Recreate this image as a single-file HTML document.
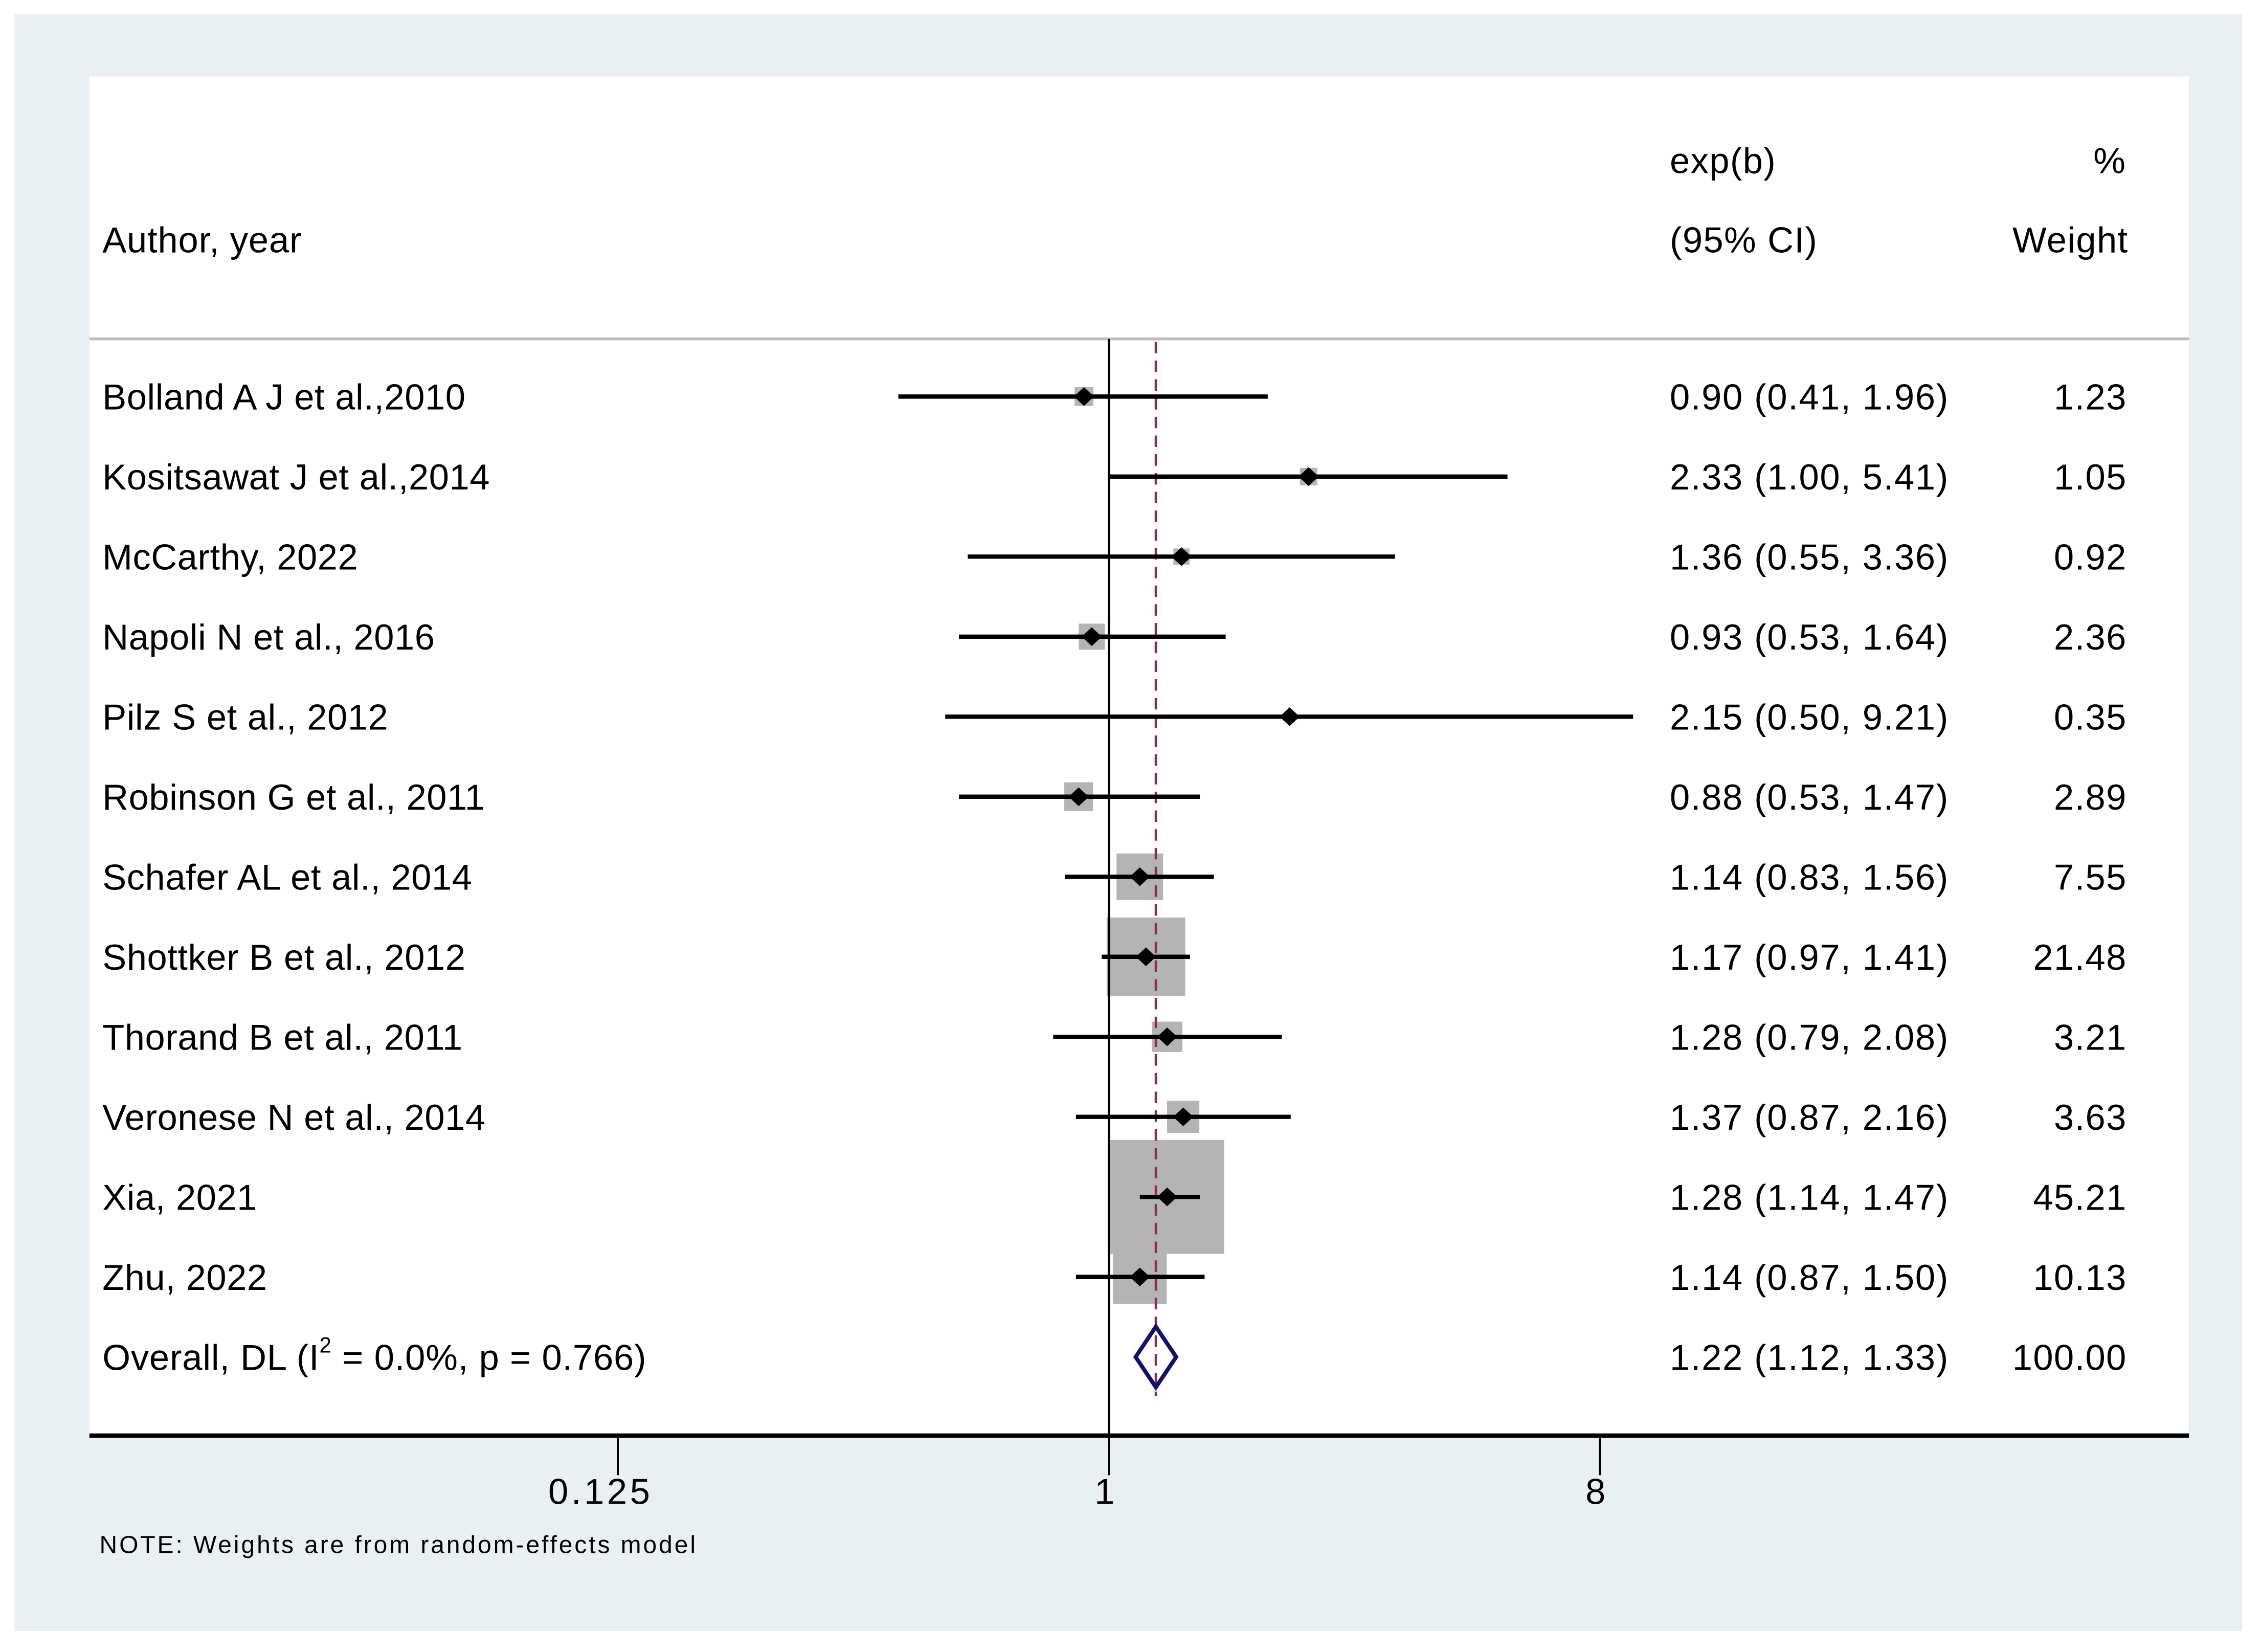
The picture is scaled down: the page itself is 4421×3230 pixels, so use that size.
<!DOCTYPE html>
<html><head><meta charset="utf-8"><style>
html,body{margin:0;padding:0;background:#fff;}
svg{display:block;}
text{font-family:"Liberation Sans",Arial,sans-serif;fill:#000;}
</style></head><body>
<svg id="chart" width="4421" height="3230" viewBox="0 0 1568 1145.6" xmlns="http://www.w3.org/2000/svg">
<rect x="10" y="10" width="1545" height="1121" fill="#e8f0f2"/>
<rect x="62" y="53" width="1456" height="942" fill="#fff"/>
<text x="71" y="175" font-size="25" letter-spacing="0.3">Author, year</text>
<text x="1158" y="120" font-size="25" letter-spacing="0.5">exp(b)</text>
<text x="1158" y="175" font-size="25" letter-spacing="0.5">(95% CI)</text>
<text x="1474" y="120" font-size="25" text-anchor="end">%</text>
<text x="1476" y="175" font-size="25" text-anchor="end" letter-spacing="0.5">Weight</text>
<line x1="62" y1="235" x2="1518" y2="235" stroke="#bdbdbd" stroke-width="2"/>
<g id="marks"></g>
<line x1="62" y1="995.5" x2="1518" y2="995.5" stroke="#000" stroke-width="3"/>
<g id="axis"></g>
<text x="69" y="1077" font-size="17" letter-spacing="1.4">NOTE: Weights are from random-effects model</text>
</svg>
<script>
const studies = ["Bolland A J et al.,2010","Kositsawat J et al.,2014","McCarthy, 2022","Napoli N et al., 2016","Pilz S et al., 2012","Robinson G et al., 2011","Schafer AL et al., 2014","Shottker B et al., 2012","Thorand B et al., 2011","Veronese N et al., 2014","Xia, 2021","Zhu, 2022"];
const est = [0.90,2.33,1.36,0.93,2.15,0.88,1.14,1.17,1.28,1.37,1.28,1.14];
const lower = [0.41,1.00,0.55,0.53,0.50,0.53,0.83,0.97,0.79,0.87,1.14,0.87];
const upper = [1.96,5.41,3.36,1.64,9.21,1.47,1.56,1.41,2.08,2.16,1.47,1.50];
const weights = [1.23,1.05,0.92,2.36,0.35,2.89,7.55,21.48,3.21,3.63,45.21,10.13];
const overall = [1.22,1.12,1.33];
const tickValues = [0.125,1,8];
const tickLabels = ["0.125","1","8"];

const NS="http://www.w3.org/2000/svg";
const X0=769, PER=113.5;
function xs(v){return X0+PER*Math.log2(v);}
function ys(i){return 275+55.5*i;}
function mk(tag,attrs,parent){const e=document.createElementNS(NS,tag);for(const k in attrs)e.setAttribute(k,attrs[k]);parent.appendChild(e);return e;}
const svg=document.getElementById('chart');
const g=document.getElementById('marks');
const ax=document.getElementById('axis');
const fmt=v=>v.toFixed(2);

studies.forEach((s,i)=>{
  const side=11.75*Math.sqrt(weights[i]);
  const b=mk('rect',{x:xs(est[i])-side/2,y:ys(i)-side/2,width:side,height:side,fill:'#b4b4b4'},g);
  
  
});
const nl=mk('line',{x1:X0,y1:235,x2:X0,y2:995,stroke:'#000','stroke-width':1.6},g);


const ol=mk('line',{x1:xs(overall[0]),y1:237,x2:xs(overall[0]),y2:968,stroke:'#8a3040','stroke-width':1.6,'stroke-dasharray':'8,5'},g);


studies.forEach((s,i)=>{
  const y=ys(i);
  const l=mk('line',{x1:xs(lower[i]),y1:y,x2:xs(upper[i]),y2:y,stroke:'#000','stroke-width':3},g);
  
  
  const x=xs(est[i]);
  const p=mk('polygon',{points:`${x-7},${y} ${x},${y-6.5} ${x+7},${y} ${x},${y+6.5}`,fill:'#000'},g);
  
  
  const t=mk('text',{x:71,y:y+9,'font-size':25,'letter-spacing':0.2},svg);
  t.textContent=s;
  
  
  const c=mk('text',{x:1158,y:y+9,'font-size':25,'letter-spacing':0.6},svg);
  c.textContent=`${fmt(est[i])} (${fmt(lower[i])}, ${fmt(upper[i])})`;
  
  
  const w=mk('text',{x:1475,y:y+9,'font-size':25,'text-anchor':'end','letter-spacing':0.5},svg);
  w.textContent=fmt(weights[i]);
  
  
});
const oy=ys(studies.length);
const d=mk('polygon',{points:`${xs(overall[1])},${oy} ${xs(overall[0])},${oy-21} ${xs(overall[2])},${oy} ${xs(overall[0])},${oy+21}`,fill:'none',stroke:'#101070','stroke-width':2.8},g);


const ot=mk('text',{x:71,y:oy+9,'font-size':25,'letter-spacing':0.3},svg);
ot.innerHTML='Overall, DL (I<tspan font-size="15" dy="-12">2</tspan><tspan dy="12"> = 0.0%, p = 0.766)</tspan>';


const oc=mk('text',{x:1158,y:oy+9,'font-size':25,'letter-spacing':0.6},svg);
oc.textContent=`${fmt(overall[0])} (${fmt(overall[1])}, ${fmt(overall[2])})`;


const ow=mk('text',{x:1475,y:oy+9,'font-size':25,'text-anchor':'end','letter-spacing':0.5},svg);
ow.textContent='100.00';


tickValues.forEach((v,i)=>{
  const tk=mk('line',{x1:xs(v),y1:996,x2:xs(v),y2:1023,stroke:'#000','stroke-width':1.3},ax);
  
  
  const tl=mk('text',{x:xs(v)-2-(tickLabels[i].length-1)*2.5,y:1043,'font-size':25,'text-anchor':'middle','letter-spacing':2},ax);
  tl.textContent=tickLabels[i];
  
  
});
</script>
</body></html>
